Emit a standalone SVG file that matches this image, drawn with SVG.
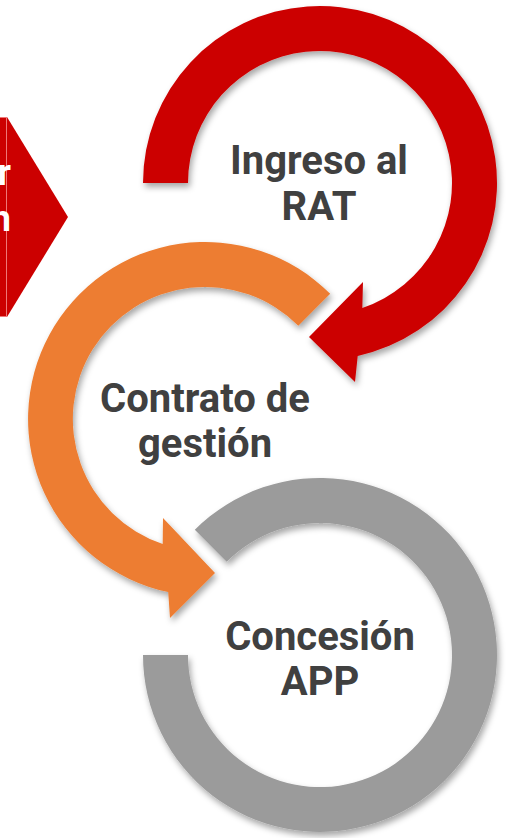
<svg xmlns="http://www.w3.org/2000/svg" width="513" height="838" viewBox="0 0 513 838">
<defs>
<filter id="sh" x="-10%" y="-10%" width="125%" height="125%">
<feDropShadow dx="2" dy="4" stdDeviation="3" flood-color="#000" flood-opacity="0.35"/>
</filter>
</defs>
<style>
.lbl{font-family:Roboto,"Liberation Sans",sans-serif;font-weight:700;font-size:40px;fill:#404040;text-anchor:middle}
.wl{font-family:Roboto,"Liberation Sans",sans-serif;font-weight:700;font-size:36px;fill:#fff;text-anchor:end}
</style>
<rect width="513" height="838" fill="#fff"/>
<g id="chevron">
<polygon points="0,117 7,117 68,217 7,317 0,317" fill="#CC0000"/>
<line x1="6.5" y1="117" x2="6.5" y2="317" stroke="#E77" stroke-width="1"/>
<line x1="0" y1="117.5" x2="7" y2="117.5" stroke="#E77" stroke-width="1"/>
<line x1="0" y1="316.5" x2="7" y2="316.5" stroke="#E77" stroke-width="1"/>
<text class="wl" x="11" y="185">r</text>
<text class="wl" x="11" y="231">n</text>
</g>
<g id="connectors">
<path id="arc-gray" filter="url(#sh)" fill="#9B9B9B" d="M194.8 529.8 A177 177 0 1 1 143 655 L188 655 A132 132 0 1 0 226.7 561.7 Z"/>
<path id="arc-orange" filter="url(#sh)" fill="#ED7D31" d="M330.2 293.8 A177 177 0 1 0 168.2 592.1 L170 618 L215 573 L163 518 L162.7 544 A132 132 0 1 1 298.3 325.7 Z"/>
<path id="arc-red" filter="url(#sh)" fill="#CC0000" d="M143 183 A177 177 0 1 1 357.7 355.9 L355 382 L309 337 L363 282 L362.3 308 A132 132 0 1 0 188 183 Z"/>
</g>
<g id="node-rat">
<text class="lbl" x="319" y="174">Ingreso al</text>
<text class="lbl" x="319" y="220">RAT</text>
</g>
<g id="node-contrato">
<text class="lbl" x="205" y="412">Contrato de</text>
<text class="lbl" x="205" y="457">gestión</text>
</g>
<g id="node-concesion">
<text class="lbl" x="320" y="650">Concesión</text>
<text class="lbl" x="320" y="695">APP</text>
</g>
</svg>
